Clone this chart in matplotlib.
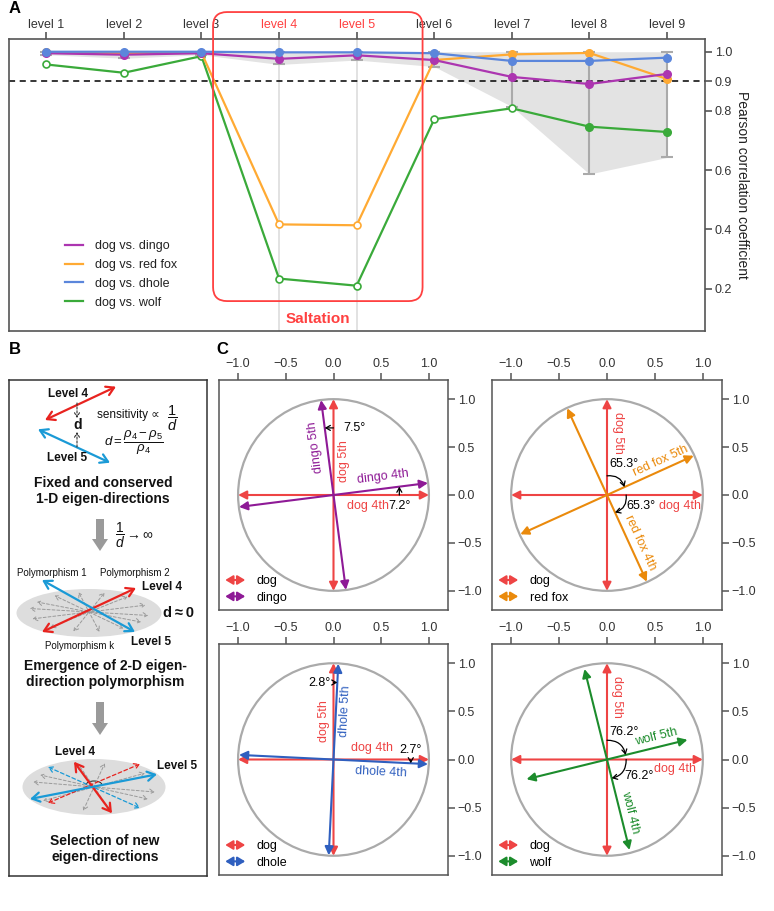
import numpy as np
import matplotlib.pyplot as plt
import matplotlib.patches as mpatches
from matplotlib.patches import FancyBboxPatch, FancyArrowPatch, Ellipse, Circle, FancyArrow, Arc
from matplotlib.legend_handler import HandlerPatch
from matplotlib.lines import Line2D

plt.rcParams['font.family'] = ['Liberation Sans', 'DejaVu Sans']
plt.rcParams['mathtext.fontset'] = 'custom'
plt.rcParams['mathtext.rm'] = 'Liberation Sans'
plt.rcParams['mathtext.it'] = 'Liberation Sans:italic'
plt.rcParams['mathtext.bf'] = 'Liberation Sans:bold'

# ---- panel A data ----
levels = ['level 1', 'level 2', 'level 3', 'level 4', 'level 5',
          'level 6', 'level 7', 'level 8', 'level 9']
dingo = [0.995, 0.990, 0.995, 0.976, 0.988, 0.972, 0.915, 0.891, 0.925]
red_fox = [0.998, 0.996, 0.997, 0.417, 0.414, 0.972, 0.991, 0.996, 0.908]
dhole = [1.000, 1.000, 1.000, 0.998, 0.998, 0.995, 0.969, 0.969, 0.980]
wolf = [0.957, 0.929, 0.985, 0.234, 0.210, 0.772, 0.809, 0.747, 0.729]
range_low = [0.990, 0.978, 0.990, 0.957, 0.972, 0.950, 0.815, 0.587, 0.643]
range_high = [1.000, 1.000, 1.000, 1.000, 1.000, 1.000, 1.000, 1.000, 1.000]
# hollow markers
dingo_open = [False] * 9
red_fox_open = [False, False, False, True, True, False, False, False, False]
dhole_open = [False] * 9
wolf_open = [True, True, True, True, True, True, True, False, False]
threshold = 0.9
saltation_levels = [4, 5]

# ---- panel C data ----
species = ['dingo', 'red fox', 'dhole', 'wolf']
dog_4th = (1.0, 0.0)
dog_5th = (0.0, 1.0)
vec_4th = [(0.99, 0.125), (0.415, -0.905), (0.99, -0.048), (0.235, -0.94)]
vec_5th = [(-0.13, 0.99), (0.905, 0.41), (0.05, 0.995), (0.84, 0.205)]
angle_4th = [7.2, 65.3, 2.7, 76.2]
angle_5th = [7.5, 65.3, 2.8, 76.2]

W, H = 774, 911
fig = plt.figure(figsize=(W / 100, H / 100), dpi=100)


def px_axes(x0, y0, x1, y1):
    return fig.add_axes([x0 / W, 1 - y1 / H, (x1 - x0) / W, (y1 - y0) / H])


spine_c = '#555555'
tick_c = '#333333'
red = '#ff4040'

# ================= panel A =================
ax = px_axes(9, 39, 705, 331)
x = np.arange(1, len(levels) + 1)
ax.set_xlim(0.52, 9.49)
ax.set_ylim(0.057, 1.043)

ax.fill_between(x, range_low, range_high, color='#e3e3e3', lw=0, zorder=1)
lo, hi = np.array(range_low), np.array(range_high)
ax.errorbar(x, (lo + hi) / 2, yerr=(hi - lo) / 2, fmt='none', ecolor='#aaaaaa',
            elinewidth=1.5, capsize=4, capthick=1.5, zorder=2)
for lv in saltation_levels:
    ax.axvline(lv, color='#dddddd', lw=1.2, zorder=1.5)
ax.axhline(threshold, color='black', ls='--', lw=1.1, dashes=(4, 3), zorder=2)

series = [
    ('dog vs. wolf', wolf, wolf_open, '#3aaa3a', 3),
    ('dog vs. red fox', red_fox, red_fox_open, '#ffaa33', 4),
    ('dog vs. dingo', dingo, dingo_open, '#ac35b0', 5),
    ('dog vs. dhole', dhole, dhole_open, '#5b86db', 6),
]
handles = {}
for name, vals, hollow, col, z in series:
    vals = np.array(vals)
    hollow = np.array(hollow)
    ax.plot(x, vals, color=col, lw=1.6, zorder=z)
    ax.plot(x[~hollow], vals[~hollow], 'o', color=col, ms=5.5, zorder=z)
    ax.plot(x[hollow], vals[hollow], 'o', mfc='white', mec=col, mew=1.2, ms=5, zorder=z)
    handles[name] = Line2D([], [], color=col, lw=1.6)

order = ['dog vs. dingo', 'dog vs. red fox', 'dog vs. dhole', 'dog vs. wolf']
leg = ax.legend([handles[k] for k in order], order, loc='lower left',
                bbox_to_anchor=(0.065, 0.038), frameon=False, fontsize=9,
                handlelength=1.4, handletextpad=1.0, labelspacing=0.55)
for t in leg.get_texts():
    t.set_color('#222222')

ax.xaxis.tick_top()
ax.set_xticks(x)
ax.set_xticklabels(levels, fontsize=9)
for i, lab in enumerate(ax.get_xticklabels()):
    lab.set_color(red if (i + 1) in saltation_levels else tick_c)
ax.yaxis.tick_right()
ax.yaxis.set_label_position('right')
ax.set_yticks([0.2, 0.4, 0.6, 0.8, 0.9, 1.0])
ax.set_yticklabels(['0.2', '0.4', '0.6', '0.8', '0.9', '1.0'], fontsize=9, color=tick_c)
ax.set_ylabel('Pearson correlation coefficient', rotation=-90, labelpad=12,
              fontsize=10, color='#222222')
ax.tick_params(length=5, width=1.2, color=spine_c, pad=2)
ax.tick_params(axis='x', pad=0.5)
for s in ax.spines.values():
    s.set_color(spine_c)
    s.set_linewidth(1.2)

# saltation highlight
x0, x1 = saltation_levels[0] - 0.85, saltation_levels[1] + 0.85
y0, y1 = 0.158, 1.134
box = FancyBboxPatch((x0, y0), x1 - x0, y1 - y0,
                     boxstyle='round,pad=0,rounding_size=0.18',
                     mutation_aspect=0.262, fill=False, ec=red, lw=1.3,
                     clip_on=False, zorder=7)
ax.add_patch(box)
ax.text(np.mean(saltation_levels), 0.097, 'Saltation', color=red, fontsize=11,
        fontweight='bold', ha='center', va='center')

# ================= panel B =================
axb = px_axes(9, 380, 207, 876)
axb.set_xlim(9, 207)
axb.set_ylim(876, 380)
axb.set_xticks([])
axb.set_yticks([])
for s in axb.spines.values():
    s.set_color('#333333')
    s.set_linewidth(1.1)

c_red = '#e8231f'
c_blue = '#1a9ad6'


def darrow(p0, p1, col, lw=1.6, ls='-', hl=0.5, hw=0.3, ms=11, style='<->'):
    axb.annotate('', xy=p1, xytext=p0,
                 arrowprops=dict(arrowstyle=f'{style},head_length={hl},head_width={hw}',
                                 color=col, lw=lw, linestyle=ls, shrinkA=0, shrinkB=0,
                                 mutation_scale=ms))


def block_arrow(xc, ya, yb):
    axb.add_patch(FancyArrow(xc, ya, 0, yb - ya, width=8, head_width=16, head_length=12,
                             length_includes_head=True, color='#9a9a9a', lw=0))


bold = dict(fontweight='bold', color='#111111')

# first diagram
darrow((45, 420), (116, 386.7), c_red)
darrow((38, 429.3), (110, 462.7), c_blue)
axb.text(68, 394, 'Level 4', ha='center', va='center', fontsize=8.5, **bold)
axb.text(67, 458, 'Level 5', ha='center', va='center', fontsize=8.5, **bold)
darrow((77, 403), (77, 418), '#333333', lw=0.8, ls=(0, (2, 1.5)), ms=6, style='->')
darrow((77, 447), (77, 432), '#333333', lw=0.8, ls=(0, (2, 1.5)), ms=6, style='->')
axb.text(78, 425, 'd', ha='center', va='center', fontsize=10, **bold)
axb.text(97, 415, 'sensitivity \u221d', ha='left', va='center',
         fontsize=8.5, color='#111111')
axb.text(172, 418, r'$\dfrac{1}{d}$', ha='center', va='center',
         fontsize=10.5, color='#111111')
axb.text(104, 443, r'$d=\dfrac{\rho_4-\rho_5}{\rho_4}$', ha='left', va='center',
         fontsize=9.5, color='#111111')
axb.text(103, 491, 'Fixed and conserved\n1-D eigen-directions', ha='center', va='center',
         fontsize=10, linespacing=1.15, **bold)

block_arrow(100, 519, 551)
axb.text(115, 535, r'$\dfrac{1}{d}\rightarrow\infty$', ha='left', va='center',
         fontsize=10, color='#111111')

# second diagram
axb.text(52, 573, 'Polymorphism 1', ha='center', va='center', fontsize=7, color='#111111')
axb.text(135, 573, 'Polymorphism 2', ha='center', va='center', fontsize=7, color='#111111')
axb.add_patch(Ellipse((89, 613), 145, 48, fc='#dddddd', ec='none'))
for t in [20, 50, 75, 100, 125, 150, 170]:
    r = np.deg2rad(t)
    dx, dy = 60 * np.cos(r), 20 * np.sin(r)
    darrow((89 - dx, 612 + dy), (89 + dx, 612 - dy), '#9a9a9a', lw=0.7,
           ls=(0, (3, 2)), ms=6)
darrow((42, 632), (136, 588), c_red)
darrow((42, 580), (135, 632), c_blue)
axb.text(162, 587, 'Level 4', ha='center', va='center', fontsize=8.5, **bold)
axb.text(178, 613, 'd\u2009\u2248\u20090', ha='center', va='center', fontsize=10.5, **bold)
axb.text(151, 642, 'Level 5', ha='center', va='center', fontsize=8.5, **bold)
axb.text(80, 646, 'Polymorphism k', ha='center', va='center', fontsize=7, color='#111111')
axb.text(105, 674, 'Emergence of 2-D eigen-\ndirection polymorphism', ha='center',
         va='center', fontsize=10, linespacing=1.15, **bold)

block_arrow(100, 702, 735)

# third diagram
axb.add_patch(Ellipse((94, 787), 143, 56, fc='#dddddd', ec='none'))
for t in [35, 80, 105, 150, 168]:
    r = np.deg2rad(t)
    dx, dy = 62 * np.cos(r), 24 * np.sin(r)
    darrow((94 - dx, 787 + dy), (94 + dx, 787 - dy), '#9a9a9a', lw=0.7,
           ls=(0, (3, 2)), ms=6)
darrow((48, 803), (140, 764), c_red, lw=0.9, ls=(0, (3, 2)), ms=7)
darrow((48, 767), (140, 808), c_blue, lw=0.9, ls=(0, (3, 2)), ms=7)
darrow((74, 761.7), (112, 813.3), c_red)
darrow((30, 799), (157, 774.3), c_blue)
axb.add_patch(Arc((94, 785), 16, 8, theta1=180, theta2=360, color='#222222', lw=0.7))
axb.text(75, 752, 'Level 4', ha='center', va='center', fontsize=8.5, **bold)
axb.text(177, 766, 'Level 5', ha='center', va='center', fontsize=8.5, **bold)
axb.text(105, 849, 'Selection of new\neigen-directions', ha='center', va='center',
         fontsize=10, linespacing=1.15, **bold)

# ================= panel C =================
c_dog = '#ee4444'
species_colors = ['#8e1a96', '#ea8a0c', '#2f5fbf', '#1c8c2c']
c_boxes = [(219, 380, 448, 610), (492, 380, 722, 610),
           (219, 644, 448, 875), (492, 644, 722, 875)]

# label layout per panel: (x, y, rotation)
label_layout = [
    {'dog5': (0.11, 0.35, 90), 'sp5': (-0.19, 0.5, 97.5), 'sp4': (0.52, 0.19, 7.2),
     'dog4': (0.36, -0.11, 0), 'a4': (0.69, -0.11), 'a5': (0.22, 0.7)},
    {'dog5': (0.11, 0.65, -90), 'sp5': (0.56, 0.36, 24.7), 'sp4': (0.35, -0.5, -65.3),
     'dog4': (0.76, -0.11, 0), 'a4': (0.35, -0.12), 'a5': (0.175, 0.32)},
    {'dog5': (-0.1, 0.4, 90), 'sp5': (0.12, 0.5, 87.2), 'sp4': (0.5, -0.13, -2.7),
     'dog4': (0.4, 0.115, 0), 'a4': (0.81, 0.1), 'a5': (-0.145, 0.8)},
    {'dog5': (0.1, 0.65, -90), 'sp5': (0.51, 0.23, 13.8), 'sp4': (0.24, -0.55, -76),
     'dog4': (0.705, -0.1, 0), 'a4': (0.33, -0.17), 'a5': (0.175, 0.29)},
]


class HandlerDoubleArrow(HandlerPatch):
    def create_artists(self, legend, orig_handle, xdescent, ydescent, width, height,
                       fontsize, trans):
        y = height / 2 - ydescent
        p = FancyArrowPatch((-xdescent, y), (width - xdescent, y),
                            arrowstyle='<|-|>,head_length=0.5,head_width=0.3',
                            mutation_scale=9, color=orig_handle.get_facecolor(), lw=1.5,
                            shrinkA=0, shrinkB=0)
        p.set_transform(trans)
        return [p]


def vec_arrow(ax, v, col, lw=1.5):
    ax.annotate('', xy=v, xytext=(-v[0], -v[1]),
                arrowprops=dict(arrowstyle='<|-|>,head_length=0.55,head_width=0.28',
                                color=col, lw=lw, shrinkA=0, shrinkB=0, mutation_scale=9))


def small_arrow(ax, p0, p1, rad=0.0):
    ax.annotate('', xy=p1, xytext=p0,
                arrowprops=dict(arrowstyle='->,head_length=0.35,head_width=0.2',
                                color='black', lw=0.9, shrinkA=0, shrinkB=0,
                                mutation_scale=9, connectionstyle=f'arc3,rad={rad}'))


for i, sp in enumerate(species):
    axc = px_axes(*c_boxes[i])
    col = species_colors[i]
    axc.set_xlim(-1.2, 1.2)
    axc.set_ylim(-1.2, 1.2)
    axc.add_patch(Circle((0, 0), 1, fill=False, ec='#aaaaaa', lw=1.6))
    vec_arrow(axc, dog_4th, c_dog)
    vec_arrow(axc, dog_5th, c_dog)
    vec_arrow(axc, vec_4th[i], col)
    vec_arrow(axc, vec_5th[i], col)

    L = label_layout[i]
    fs = 9
    axc.text(*L['dog5'][:2], 'dog 5th', rotation=L['dog5'][2], color=c_dog, fontsize=fs,
             ha='center', va='center', rotation_mode='anchor')
    axc.text(*L['dog4'][:2], 'dog 4th', rotation=L['dog4'][2], color=c_dog, fontsize=fs,
             ha='center', va='center')
    axc.text(*L['sp5'][:2], f'{sp} 5th', rotation=L['sp5'][2], color=col, fontsize=fs,
             ha='center', va='center', rotation_mode='anchor')
    axc.text(*L['sp4'][:2], f'{sp} 4th', rotation=L['sp4'][2], color=col, fontsize=fs,
             ha='center', va='center', rotation_mode='anchor')
    axc.text(*L['a4'], f'{angle_4th[i]}°', color='black', fontsize=fs, ha='center', va='center')
    axc.text(*L['a5'], f'{angle_5th[i]}°', color='black', fontsize=fs, ha='center', va='center')

    # angle indicators
    v4, v5 = vec_4th[i], vec_5th[i]
    if angle_4th[i] > 30:
        small_arrow(axc, (0, 0.2), (0.2 * v5[0] / np.hypot(*v5), 0.2 * v5[1] / np.hypot(*v5)), rad=-0.4)
        small_arrow(axc, (0.2, 0), (0.2 * v4[0] / np.hypot(*v4), 0.2 * v4[1] / np.hypot(*v4)), rad=-0.4)
    else:
        xa = L['a4'][0]
        small_arrow(axc, (xa, 0), (xa, xa * v4[1] / v4[0]))
        ya = L['a5'][1]
        small_arrow(axc, (0, ya), (ya * v5[0] / v5[1], ya))

    axc.xaxis.tick_top()
    axc.yaxis.tick_right()
    axc.set_xticks([-1, -0.5, 0, 0.5, 1])
    axc.set_yticks([-1, -0.5, 0, 0.5, 1])
    axc.tick_params(labelsize=9, labelcolor=tick_c, color=spine_c, length=5, width=1.1, pad=2)
    for s in axc.spines.values():
        s.set_color(spine_c)
        s.set_linewidth(1.1)

    hs = [mpatches.Patch(color=c_dog), mpatches.Patch(color=col)]
    axc.legend(hs, ['dog', sp], loc='lower left', frameon=False, fontsize=9,
               handler_map={mpatches.Patch: HandlerDoubleArrow()},
               handlelength=1.6, handletextpad=0.9, labelspacing=0.35,
               borderaxespad=0.2, borderpad=0.3)

# panel labels
fig.text(9 / W, 1 - 1 / H, 'A', fontsize=12, fontweight='bold', va='top')
fig.text(9 / W, 1 - 342 / H, 'B', fontsize=12, fontweight='bold', va='top')
fig.text(216 / W, 1 - 342 / H, 'C', fontsize=12, fontweight='bold', va='top')

fig.savefig('out.png', dpi=100)
